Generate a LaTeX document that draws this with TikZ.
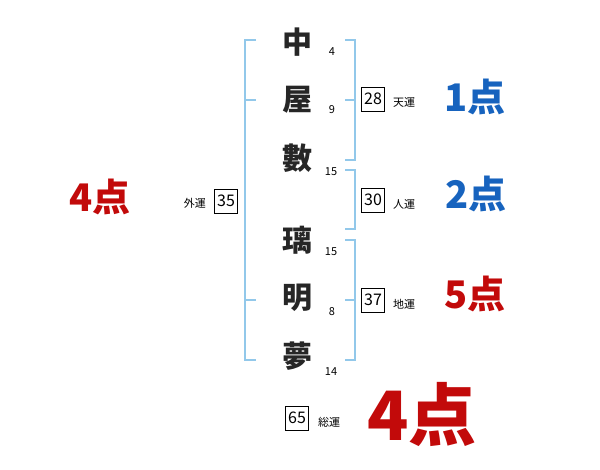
\documentclass[tikz,border=0pt]{standalone}
\usepackage{fontspec}
\setmainfont{Noto Sans CJK JP}
\definecolor{brk}{HTML}{92C8EA}
\definecolor{ptblue}{HTML}{1763BE}
\definecolor{ptred}{HTML}{C20A0A}
\begin{document}
\begin{tikzpicture}[x=1pt,y=-1pt,
  brkline/.style={brk,line width=2pt},
  kanji/.style={font=\fontsize{30}{30}\selectfont\bfseries,text=black!85,inner sep=0pt},
  stroke/.style={font=\fontsize{11}{11}\selectfont,inner sep=0pt},
  numbox/.style={draw,line width=0.8pt,minimum width=23pt,minimum height=24pt,inner sep=0pt,font=\fontsize{16}{16}\selectfont},
  lbl/.style={font=\fontsize{11}{11}\selectfont,inner sep=0pt},
  pts/.style={font=\fontsize{38}{38}\selectfont\bfseries,inner sep=0pt}]
\useasboundingbox (0,0) rectangle (600,470);
% brackets
\draw[brkline] (256,40) -- (245,40) -- (245,360) -- (256,360);
\draw[brkline] (245,100) -- (256,100);
\draw[brkline] (245,300) -- (256,300);
\draw[brkline] (345,40) -- (355,40) -- (355,160) -- (345,160);
\draw[brkline] (345,100) -- (355,100);
\draw[brkline] (345,170) -- (355,170) -- (355,229) -- (345,229);
\draw[brkline] (345,240) -- (355,240) -- (355,360) -- (345,360);
\draw[brkline] (345,300) -- (355,300);
% characters
\node[kanji] (c1) at (297,42) {中};
\node[kanji] (c2) at (297,100) {屋};
\node[kanji] (c3) at (297,158) {數};
\node[kanji] (c4) at (297,240) {璃};
\node[kanji] (c5) at (297,298) {明};
\node[kanji] (c6) at (297,356) {夢};
\node[stroke] (s1) at (332,52) {4};
\node[stroke] (s2) at (332,110) {9};
\node[stroke] (s3) at (331,172) {15};
\node[stroke] (s4) at (331,252) {15};
\node[stroke] (s5) at (332,312) {8};
\node[stroke] (s6) at (331,372) {14};
% boxes
\node[numbox] (b1) at (373,99) {28};
\node[lbl,anchor=west] (l1) at (393,102) {天運};
\node[numbox] (b2) at (373,200) {30};
\node[lbl,anchor=west] (l2) at (393,204) {人運};
\node[numbox] (b3) at (373,300) {37};
\node[lbl,anchor=west] (l3) at (393,304) {地運};
\node[numbox] (b4) at (226,201) {35};
\node[lbl,anchor=east] (l4) at (206,203) {外運};
\node[numbox] (b5) at (297,418) {65};
\node[lbl,anchor=west] (l5) at (318,422) {総運};
% points
\node[pts,text=ptblue] (p1) at (475,97) {1点};
\node[pts,text=ptblue] (p2) at (476,194) {2点};
\node[pts,text=ptred] (p3) at (475,294) {5点};
\node[pts,text=ptred] (p4) at (100,197) {4点};
\node[font=\fontsize{68}{68}\selectfont\bfseries,inner sep=0pt,text=ptred] (p5) at (422,414) {4点};
\end{tikzpicture}
\end{document}
